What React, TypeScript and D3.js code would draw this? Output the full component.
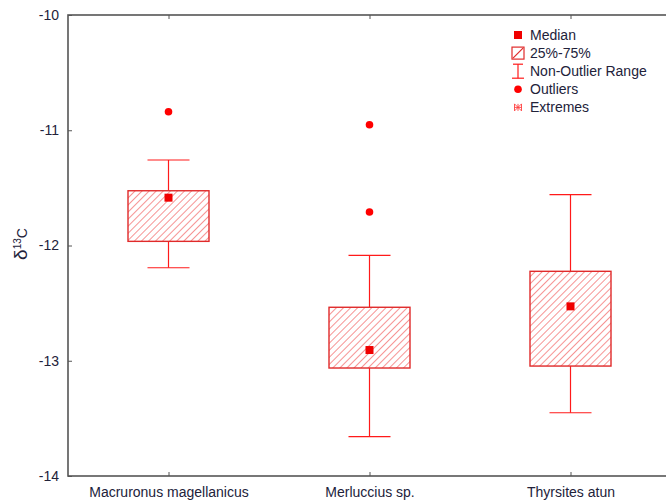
import React, { useEffect, useRef } from 'react';
import * as d3 from 'd3';

const categories = ["Macruronus magellanicus", "Merluccius sp.", "Thyrsites atun"];
const medians = [-11.585, -12.907, -12.528];
const q1s = [-11.964, -13.063, -13.046];
const q3s = [-11.525, -12.536, -12.224];
const whiskerLows = [-12.193, -13.659, -13.451];
const whiskerHighs = [-11.258, -12.085, -11.559];
const outliers: number[][] = [[-10.839], [-10.952, -11.709], []];
const yTicks = [-10, -11, -12, -13, -14];
const legendItems = ["Median", "25%-75%", "Non-Outlier Range", "Outliers", "Extremes"];

const W = 666;
const H = 504;

const App: React.FC = () => {
  const svgRef = useRef<SVGSVGElement>(null);

  useEffect(() => {
    document.body.style.margin = "0";
    if (!svgRef.current) return;

    const margin = { top: 15, left: 68, right: 671, bottom: 476 };
    const red = "#ff1a1a";
    const boxRed = "#e02a2a";
    const textColor = "#22223a";
    const axisColor = "#555";
    const font = "Arial, 'Liberation Sans', sans-serif";

    const svg = d3.select(svgRef.current);
    svg.selectAll("*").remove();

    const defs = svg.append("defs");
    const pat = defs.append("pattern")
      .attr("id", "hatch")
      .attr("patternUnits", "userSpaceOnUse")
      .attr("width", 5)
      .attr("height", 5)
      .attr("patternTransform", "rotate(45)");
    pat.append("line")
      .attr("x1", 0).attr("y1", 0).attr("x2", 0).attr("y2", 5)
      .attr("stroke", "#ee3a3a").attr("stroke-width", 1.1);

    const x = d3.scalePoint<string>()
      .domain(categories)
      .range([margin.left, margin.right])
      .padding(0.5);

    const y = d3.scaleLinear()
      .domain([-14, -10])
      .range([margin.bottom, margin.top]);

    // frame
    svg.append("rect")
      .attr("x", margin.left)
      .attr("y", margin.top)
      .attr("width", margin.right - margin.left)
      .attr("height", margin.bottom - margin.top)
      .attr("fill", "none")
      .attr("stroke", axisColor)
      .attr("stroke-width", 1.6);

    // y axis
    const yAxis = svg.append("g")
      .attr("transform", `translate(${margin.left},0)`)
      .call(d3.axisRight(y).tickValues(yTicks).tickSize(4).tickFormat(d => String(d)));
    yAxis.select(".domain").remove();
    yAxis.selectAll("line").attr("stroke", axisColor);
    yAxis.selectAll("text")
      .attr("x", -9)
      .attr("text-anchor", "end")
      .style("font-family", font)
      .style("font-size", "14px")
      .style("fill", textColor);

    const yAxisR = svg.append("g")
      .attr("transform", `translate(${margin.right},0)`)
      .call(d3.axisLeft(y).tickValues(yTicks).tickSize(4).tickFormat(() => ""));
    yAxisR.select(".domain").remove();
    yAxisR.selectAll("line").attr("stroke", "#bbb");

    // x axis
    const xAxis = svg.append("g")
      .attr("transform", `translate(0,${margin.bottom})`)
      .call(d3.axisTop(x).tickSize(4));
    xAxis.select(".domain").remove();
    xAxis.selectAll("line").attr("stroke", axisColor);
    xAxis.selectAll("text")
      .attr("y", 21)
      .attr("dy", 0)
      .style("font-family", font)
      .style("font-size", "14px")
      .style("fill", textColor);

    const xTop = svg.append("g")
      .attr("transform", `translate(0,${margin.top})`)
      .call(d3.axisBottom(x).tickSize(4).tickFormat(() => ""));
    xTop.select(".domain").remove();
    xTop.selectAll("line").attr("stroke", axisColor);

    // y label
    const yl = svg.append("text")
      .attr("transform", `translate(27,244) rotate(-90)`)
      .attr("text-anchor", "middle")
      .style("font-family", font)
      .style("fill", textColor);
    yl.append("tspan").style("font-size", "19px").text("δ");
    yl.append("tspan").style("font-size", "10px").attr("dy", -6).text("13");
    yl.append("tspan").style("font-size", "14px").attr("dy", 6).text("C");

    const boxW = 81;
    const capW = 42;

    categories.forEach((c, i) => {
      const cx = x(c)!;
      const g = svg.append("g");
      // whiskers
      g.append("line")
        .attr("x1", cx).attr("x2", cx)
        .attr("y1", y(whiskerHighs[i])).attr("y2", y(q3s[i]))
        .attr("stroke", red).attr("stroke-width", 1.2);
      g.append("line")
        .attr("x1", cx).attr("x2", cx)
        .attr("y1", y(q1s[i])).attr("y2", y(whiskerLows[i]))
        .attr("stroke", red).attr("stroke-width", 1.2);
      [whiskerHighs[i], whiskerLows[i]].forEach(v => {
        g.append("line")
          .attr("x1", cx - capW / 2).attr("x2", cx + capW / 2)
          .attr("y1", y(v)).attr("y2", y(v))
          .attr("stroke", red).attr("stroke-width", 1.2);
      });
      // box
      g.append("rect")
        .attr("x", cx - boxW / 2)
        .attr("y", y(q3s[i]))
        .attr("width", boxW)
        .attr("height", y(q1s[i]) - y(q3s[i]))
        .attr("fill", "url(#hatch)")
        .attr("stroke", boxRed)
        .attr("stroke-width", 1.4);
      // median
      g.append("rect")
        .attr("x", cx - 4).attr("y", y(medians[i]) - 4)
        .attr("width", 8).attr("height", 8)
        .attr("fill", "#f00000");
      // outliers
      outliers[i].forEach(v => {
        g.append("circle")
          .attr("cx", cx).attr("cy", y(v)).attr("r", 3.8)
          .attr("fill", "#ff0000");
      });
    });

    // legend
    const lx = 518;
    const ly = 35;
    const step = 18.1;
    const lg = svg.append("g");
    legendItems.forEach((t, i) => {
      lg.append("text")
        .attr("x", lx + 12)
        .attr("y", ly + i * step)
        .attr("dy", "0.35em")
        .style("font-family", font)
        .style("font-size", "14px")
        .style("fill", textColor)
        .text(t);
    });
    // median icon
    lg.append("rect").attr("x", lx - 4).attr("y", ly - 4).attr("width", 8).attr("height", 8).attr("fill", "#f00000");
    // box icon
    const by = ly + step;
    lg.append("rect").attr("x", lx - 6).attr("y", by - 6).attr("width", 12).attr("height", 12)
      .attr("fill", "none").attr("stroke", boxRed).attr("stroke-width", 1.2);
    lg.append("line").attr("x1", lx - 5).attr("y1", by + 5).attr("x2", lx + 5).attr("y2", by - 5)
      .attr("stroke", boxRed).attr("stroke-width", 1.2);
    // whisker icon
    const wy = ly + 2 * step;
    lg.append("line").attr("x1", lx - 5).attr("x2", lx + 5).attr("y1", wy - 7).attr("y2", wy - 7).attr("stroke", red).attr("stroke-width", 1.2);
    lg.append("line").attr("x1", lx - 6).attr("x2", lx + 6).attr("y1", wy + 7).attr("y2", wy + 7).attr("stroke", red).attr("stroke-width", 1.2);
    lg.append("line").attr("x1", lx).attr("x2", lx).attr("y1", wy - 7).attr("y2", wy + 7).attr("stroke", red).attr("stroke-width", 1.2);
    // outlier icon
    lg.append("circle").attr("cx", lx).attr("cy", ly + 3 * step).attr("r", 3.8).attr("fill", "#ff0000");
    // extremes icon
    const ey = ly + 4 * step;
    const s = 3.5;
    [[-s, 0, s, 0], [0, -s, 0, s], [-s, -s, s, s], [-s, s, s, -s], [-s, -s, -s, s], [s, -s, s, s]].forEach(([a, b, c2, d]) => {
      lg.append("line")
        .attr("x1", lx + a).attr("y1", ey + b).attr("x2", lx + c2).attr("y2", ey + d)
        .attr("stroke", "#ff4040").attr("stroke-width", 0.9);
    });
  }, []);

  return (
    <svg ref={svgRef} width={W} height={H} style={{ display: "block", background: "#fff" }}></svg>
  );
};

export default App;
